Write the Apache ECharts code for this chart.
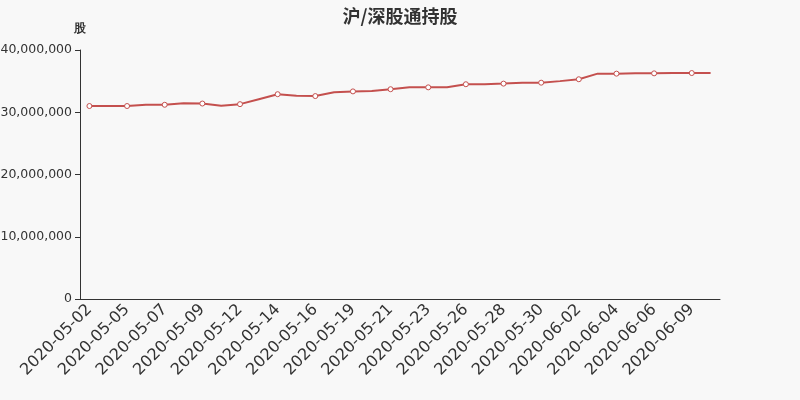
<!DOCTYPE html>
<html>
<head>
<meta charset="utf-8">
<script src="https://cdn.jsdelivr.net/npm/echarts@6/dist/echarts.min.js"></script>
<style>
html,body{margin:0;padding:0;background:#f8f8f8;}
#c{width:800px;height:400px;}
</style>
</head>
<body>
<div id="c"></div>
<script>
var titleText = '沪/深股通持股';
var yName = '股';
var dates = ['2020-05-02','2020-05-04','2020-05-05','2020-05-06','2020-05-07','2020-05-08','2020-05-09','2020-05-11','2020-05-12','2020-05-13','2020-05-14','2020-05-15','2020-05-16','2020-05-18','2020-05-19','2020-05-20','2020-05-21','2020-05-22','2020-05-23','2020-05-25','2020-05-26','2020-05-27','2020-05-28','2020-05-29','2020-05-30','2020-06-01','2020-06-02','2020-06-03','2020-06-04','2020-06-05','2020-06-06','2020-06-08','2020-06-09','2020-06-10'];
var holdings = [31000000,31000000,31000000,31200000,31200000,31450000,31400000,31050000,31300000,32100000,32900000,32650000,32600000,33200000,33350000,33400000,33700000,34000000,34000000,34000000,34500000,34500000,34600000,34750000,34750000,35000000,35300000,36200000,36200000,36250000,36250000,36300000,36300000,36300000];
var yMin = 0, yMax = 40000000, yStep = 10000000;

var chart = echarts.init(document.getElementById('c'));
chart.setOption({
  backgroundColor: '#f8f8f8',
  animation: false,
  textStyle: {fontFamily: 'DejaVu Sans'},
  title: {
    text: titleText, left: 'center', top: 2,
    textStyle: {fontSize: 18, fontWeight: 'bold', color: '#333', fontFamily: 'Noto Sans CJK SC'}
  },
  grid: {left: 80, right: 80, top: 50, bottom: 101, containLabel: false, outerBoundsMode: 'none'},
  xAxis: {
    type: 'category', data: dates, boundaryGap: true,
    axisLine: {lineStyle: {color: '#333'}},
    axisTick: {interval: 1, lineStyle: {color: '#333'}},
    axisLabel: {interval: 1, rotate: 45, fontSize: 16, color: '#333', margin: 8}
  },
  yAxis: {
    type: 'value', min: yMin, max: yMax, interval: yStep,
    name: yName, nameGap: 15,
    nameTextStyle: {fontSize: 12, color: '#333', fontWeight: 'bold'},
    axisLine: {show: true, lineStyle: {color: '#333'}},
    axisTick: {show: true, lineStyle: {color: '#333'}},
    splitLine: {show: false},
    axisLabel: {fontSize: 12.5, color: '#333', margin: 8,
      formatter: function(v){ return v.toString().replace(/\B(?=(\d{3})+(?!\d))/g, ','); }}
  },
  series: [{
    type: 'line', data: holdings,
    symbol: 'circle', showAllSymbol: true,
    symbolSize: function(v, p){ return p.dataIndex % 2 === 0 ? 5 : 0; },
    lineStyle: {color: '#c4504e', width: 2},
    itemStyle: {color: '#ffffff', borderColor: '#c4504e', borderWidth: 1}
  }]
});
</script>
</body>
</html>
